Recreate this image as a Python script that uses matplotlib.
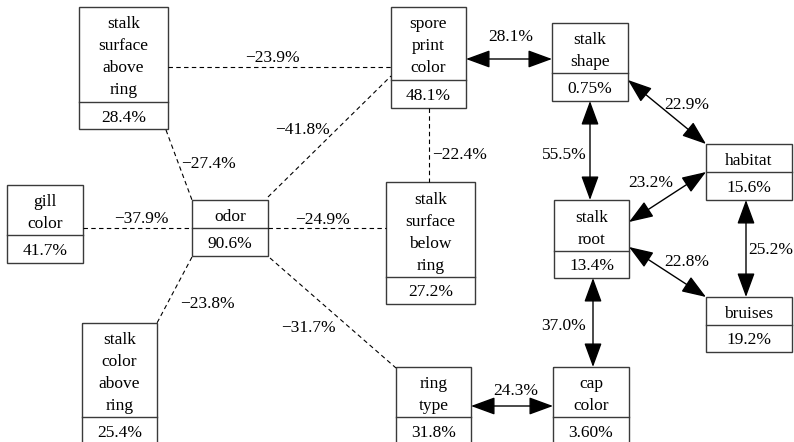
import matplotlib
matplotlib.use("Agg")
import matplotlib.pyplot as plt
from matplotlib.patches import Rectangle, FancyArrowPatch

# datos del grafo
nodos = ["stalk surface above ring", "gill color", "odor", "spore print color",
         "stalk surface below ring", "stalk shape", "habitat", "stalk root",
         "bruises", "stalk color above ring", "ring type", "cap color"]
porcentajes = ["28.4%", "41.7%", "90.6%", "48.1%", "27.2%", "0.75%", "15.6%",
               "13.4%", "19.2%", "25.4%", "31.8%", "3.60%"]
lineas_nodo = [["stalk", "surface", "above", "ring"], ["gill", "color"], ["odor"],
               ["spore", "print", "color"], ["stalk", "surface", "below", "ring"],
               ["stalk", "shape"], ["habitat"], ["stalk", "root"], ["bruises"],
               ["stalk", "color", "above", "ring"], ["ring", "type"], ["cap", "color"]]

# correlaciones negativas (lineas discontinuas)
neg_origen = ["stalk surface above ring", "stalk surface above ring", "odor", "gill color",
              "odor", "spore print color", "odor", "odor"]
neg_destino = ["spore print color", "odor", "spore print color", "odor",
               "stalk surface below ring", "stalk surface below ring",
               "stalk color above ring", "ring type"]
neg_valor = ["\u221223.9%", "\u221227.4%", "\u221241.8%", "\u221237.9%", "\u221224.9%",
             "\u221222.4%", "\u221223.8%", "\u221231.7%"]

# correlaciones positivas (flechas dobles)
pos_origen = ["spore print color", "stalk shape", "stalk shape", "habitat", "stalk root",
              "habitat", "stalk root", "ring type"]
pos_destino = ["stalk shape", "habitat", "stalk root", "stalk root", "bruises",
               "bruises", "cap color", "cap color"]
pos_valor = ["28.1%", "22.9%", "55.5%", "23.2%", "22.8%", "25.2%", "37.0%", "24.3%"]

# layout en pixeles: (x0, x1, y0, y1, y_divisor)
cajas = {
    "stalk surface above ring": (79, 168, 7, 129, 102),
    "gill color": (7, 83, 185, 263, 235),
    "odor": (192, 268, 200, 256, 228),
    "spore print color": (391, 466, 7, 108, 80),
    "stalk surface below ring": (386, 475, 182, 304, 277),
    "stalk shape": (552, 628, 23, 101, 73),
    "habitat": (706, 792, 144, 200, 172),
    "stalk root": (554, 629, 200, 278, 251),
    "bruises": (706, 792, 297, 352, 325),
    "stalk color above ring": (82, 157, 323, 470, 417),
    "ring type": (396, 471, 367, 470, 417),
    "cap color": (553, 629, 367, 470, 417),
}
neg_puntos = [((168, 67), (391, 67)), ((166, 130), (192, 200)), ((268, 197), (391, 76)),
              ((83, 228), (192, 228)), ((268, 228), (386, 228)), ((429, 108), (429, 182)),
              ((192, 257), (157, 323)), ((270, 258), (396, 368))]
neg_etiquetas = [(272, 56), (208, 162), (303, 128), (141, 217), (322, 218), (460, 153),
                 (207, 302), (308, 326)]
pos_puntos = [((466, 59), (552, 59)), ((628, 80), (706, 144)), ((590, 101), (590, 200)),
              ((706, 172), (629, 222)), ((629, 247), (706, 297)), ((746, 200), (746, 297)),
              ((593, 278), (593, 367)), ((471, 406), (553, 406))]
pos_etiquetas = [(511, 35), (687, 103), (564, 153), (651, 181), (687, 260), (771, 248),
                 (564, 324), (516, 389)]

fig = plt.figure(figsize=(7.94, 4.42), dpi=100)
ax = fig.add_axes([0, 0, 1, 1])
ax.set_xlim(0, 794)
ax.set_ylim(442, 0)
ax.axis("off")

fuente = "Liberation Serif"
fs = 12.5
gris = "#3a3a3a"

for nombre, pct, lineas in zip(nodos, porcentajes, lineas_nodo):
    x0, x1, y0, y1, yd = cajas[nombre]
    ax.add_patch(Rectangle((x0, y0), x1 - x0, y1 - y0, fill=False, ec=gris, lw=1.0))
    ax.plot([x0, x1], [yd, yd], color=gris, lw=1.0)
    xc = (x0 + x1) / 2
    n = len(lineas)
    paso = 22
    centro = (y0 + yd) / 2 + 1
    for i, t in enumerate(lineas):
        yy = centro + (i - (n - 1) / 2) * paso
        ax.text(xc, yy, t, ha="center", va="center_baseline", family=fuente, fontsize=fs)
    ax.text(xc, (yd + min(y1, yd + 28)) / 2, pct, ha="center", va="center_baseline",
            family=fuente, fontsize=fs)

for (p, q), v, (lx, ly) in zip(neg_puntos, neg_valor, neg_etiquetas):
    ax.plot([p[0], q[0]], [p[1], q[1]], color="black", lw=0.8, ls=(0, (4, 3)))
    ax.text(lx, ly, v, ha="center", va="center_baseline", family=fuente, fontsize=fs)

for (p, q), v, (lx, ly) in zip(pos_puntos, pos_valor, pos_etiquetas):
    flecha = FancyArrowPatch(p, q, arrowstyle="<|-|>,head_length=1.5,head_width=0.55",
                             mutation_scale=10, color="black", lw=1.0,
                             shrinkA=0, shrinkB=0)
    ax.add_patch(flecha)
    ax.text(lx, ly, v, ha="center", va="center_baseline", family=fuente, fontsize=fs)

fig.savefig("out.png", dpi=100)
